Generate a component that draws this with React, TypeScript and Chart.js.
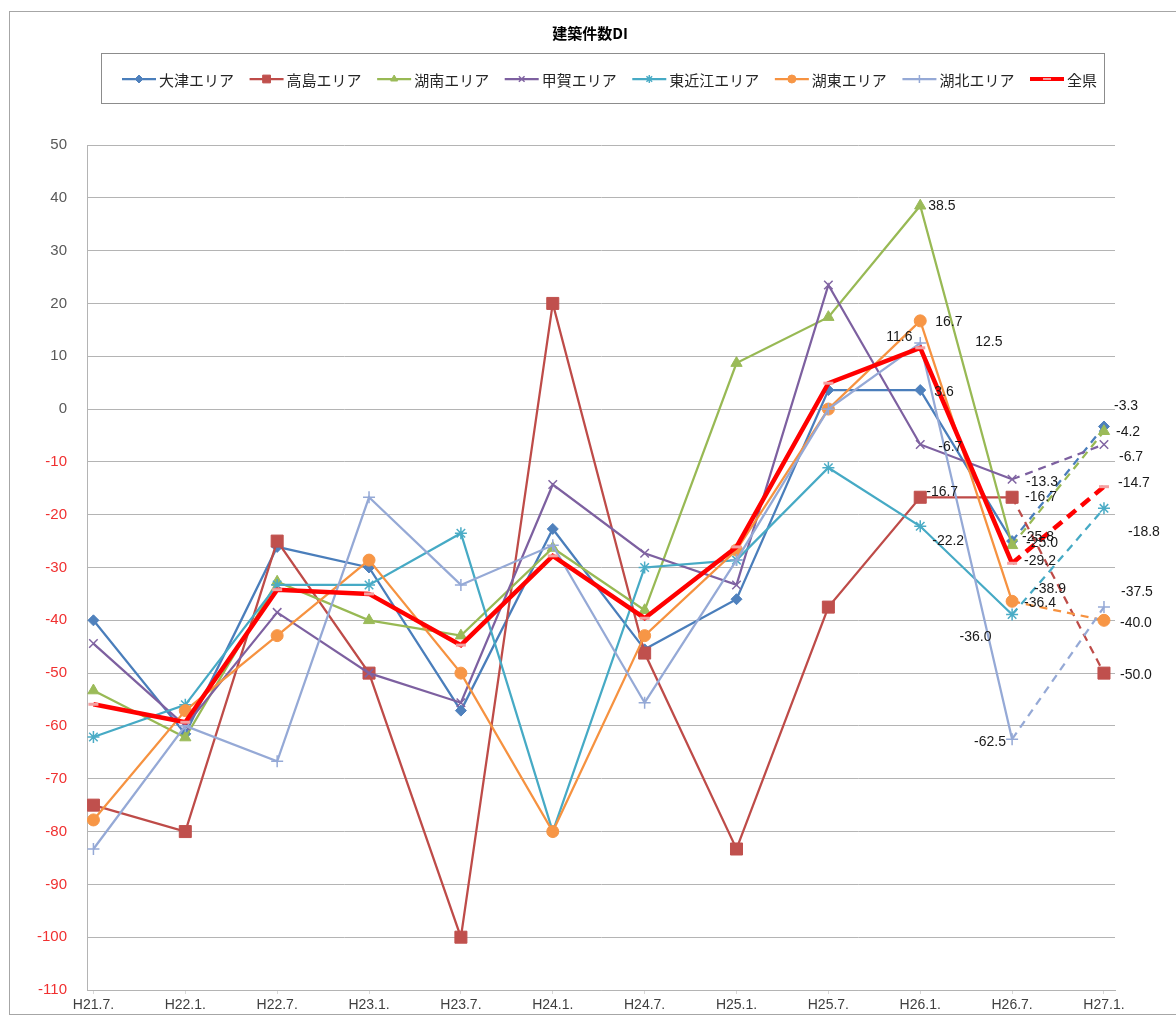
import React, { useEffect, useRef } from 'react';
import { Chart, registerables } from 'chart.js';
import { drawPoint } from 'chart.js/helpers';

Chart.register(...registerables);

const titleText = '建築件数DI';
const categories = ['H21.7.', 'H22.1.', 'H22.7.', 'H23.1.', 'H23.7.', 'H24.1.', 'H24.7.', 'H25.1.', 'H25.7.', 'H26.1.', 'H26.7.', 'H27.1.'];

const otsu = [-40.0, -61.5, -26.1, -30.0, -57.1, -22.7, -45.5, -36.0, 3.6, 3.6, -25.0, -3.3];
const takashima = [-75.0, -80.0, -25.0, -50.0, -100.0, 20.0, -46.2, -83.3, -37.5, -16.7, -16.7, -50.0];
const konan = [-53.3, -62.2, -32.7, -40.0, -42.9, -26.3, -38.1, 8.7, 17.4, 38.5, -25.8, -4.2];
const koka = [-44.4, -60.0, -38.5, -50.0, -55.6, -14.3, -27.3, -33.3, 23.5, -6.7, -13.3, -6.7];
const higashiomi = [-62.1, -56.0, -33.3, -33.3, -23.5, -80.0, -30.0, -28.6, -11.1, -22.2, -38.9, -18.8];
const koto = [-77.8, -57.1, -42.9, -28.6, -50.0, -80.0, -42.9, -26.7, 0.0, 16.7, -36.4, -40.0];
const kohoku = [-83.3, -60.0, -66.7, -16.7, -33.3, -25.8, -55.6, -28.6, 0.0, 12.5, -62.5, -37.5];
const zenken = [-55.9, -59.3, -34.2, -35.0, -44.7, -27.8, -39.6, -26.1, 4.9, 11.6, -29.2, -14.7];

const seriesNames = ['大津エリア', '高島エリア', '湖南エリア', '甲賀エリア', '東近江エリア', '湖東エリア', '湖北エリア', '全県'];
const seriesData = [otsu, takashima, konan, koka, higashiomi, koto, kohoku, zenken];

const yMin = -110;
const yMax = 50;
const yStep = 10;

// style
const lineColors = ['#4A7EBB', '#BE4B48', '#98B954', '#7D60A0', '#46AAC5', '#F69240', '#95A9D6', '#FF0000'];
const markerColors = ['#4F81BD', '#C0504D', '#9BBB59', '#8064A2', '#4BACC6', '#F79646', '#95A9D6', '#F4A0A0'];
const pointStyles = ['rectRot', 'rect', 'triangle', 'crossRot', 'star', 'circle', 'cross', 'line'];
const pointRadii = [5.5, 8.5, 6.5, 6, 6, 6, 6, 5];
const pointBorderWidths = [1, 1, 1, 1.5, 1.5, 1, 1.5, 3];

// data label placement: [series, pointIndex, dx, dy]
const labelPlacements: [number, number, number, number][] = [
  [2, 9, 8, 0], [5, 9, 15, 1], [7, 9, -34, -11], [6, 9, 55, -1], [0, 9, 14, 2], [3, 9, 18, 3], [1, 9, 6, -5], [4, 9, 12, 15],
  [0, 7, 223, 38],
  [3, 10, 14, 3], [1, 10, 13, 0], [2, 10, 10, -8], [0, 10, 14, 2], [7, 10, 12, -2], [4, 10, 22, -25], [5, 10, 12, 2], [6, 10, -38, 3],
  [0, 11, 10, -20], [2, 11, 12, 1], [3, 11, 15, 13], [7, 11, 14, -4], [4, 11, 24, 24], [6, 11, 17, -15], [5, 11, 16, 3], [1, 11, 16, 2],
];

const numFont = '"Liberation Sans", Arial, sans-serif';
const cjkFont = '"Noto Sans CJK JP", "Noto Sans", sans-serif';

const decorPlugin = {
  id: 'decor',
  beforeDraw(chart: any) {
    const c = chart.ctx as CanvasRenderingContext2D;
    c.save();
    c.fillStyle = '#ffffff';
    c.fillRect(0, 0, chart.width, chart.height);
    c.strokeStyle = '#A6A6A6';
    c.lineWidth = 1;
    c.strokeRect(9.5, 11.5, chart.width + 20, 1003);
    // title
    c.fillStyle = '#000000';
    c.font = 'bold 15px ' + cjkFont;
    c.textAlign = 'center';
    c.textBaseline = 'middle';
    c.fillText(titleText, 590, 33);
    // legend box
    c.strokeStyle = '#8C8C8C';
    c.strokeRect(101.5, 53.5, 1003, 50);
    c.font = '15px ' + cjkFont;
    const lineLen = 34;
    const textGap = 3;
    const widths = seriesNames.map((n) => c.measureText(n).width);
    const startX = 122;
    const endX = 1097;
    const used = widths.reduce((a, w) => a + w + lineLen + textGap, 0);
    const gap = (endX - startX - used) / (seriesNames.length - 1);
    let x = startX;
    const y = 79;
    seriesNames.forEach((name, i) => {
      c.strokeStyle = lineColors[i];
      c.lineWidth = i === 7 ? 4 : 2.25;
      c.setLineDash([]);
      c.beginPath();
      c.moveTo(x, y);
      c.lineTo(x + lineLen, y);
      c.stroke();
      c.fillStyle = markerColors[i];
      c.strokeStyle = markerColors[i];
      c.lineWidth = i === 7 ? 2 : pointBorderWidths[i];
      drawPoint(c, { pointStyle: pointStyles[i] as any, radius: i === 1 ? 5.5 : 4, rotation: 0, borderWidth: c.lineWidth }, x + lineLen / 2, y);
      c.fillStyle = '#262626';
      c.textAlign = 'left';
      c.textBaseline = 'middle';
      c.fillText(name, x + lineLen + textGap, y + 1);
      x += lineLen + textGap + widths[i] + gap;
    });
    c.restore();
  },
  afterDatasetsDraw(chart: any) {
    const c = chart.ctx as CanvasRenderingContext2D;
    c.save();
    c.font = '14px ' + numFont;
    c.fillStyle = '#1A1A1A';
    c.textAlign = 'left';
    c.textBaseline = 'middle';
    labelPlacements.forEach(([s, k, dx, dy]) => {
      const meta = chart.getDatasetMeta(s);
      const pt = meta.data[k];
      if (!pt) return;
      c.fillText(seriesData[s][k].toFixed(1), pt.x + dx, pt.y + dy);
    });
    c.restore();
  },
};

export default function App() {
  const ref = useRef<HTMLCanvasElement>(null);
  useEffect(() => {
    document.body.style.overflow = 'hidden';
    const canvas = ref.current;
    if (!canvas) return;
    const datasets = seriesNames.map((name, i) => ({
      label: name,
      data: seriesData[i].map((v, k) => ({ x: k, y: v })),
      borderColor: lineColors[i],
      backgroundColor: markerColors[i],
      borderWidth: i === 7 ? 4.5 : 2.25,
      pointStyle: pointStyles[i],
      pointRadius: pointRadii[i],
      pointHoverRadius: pointRadii[i],
      pointBackgroundColor: markerColors[i],
      pointBorderColor: markerColors[i],
      pointBorderWidth: pointBorderWidths[i],
      tension: 0,
      fill: false,
      order: 8 - i,
      segment: {
        borderDash: (ctx: any) => (ctx.p1DataIndex === categories.length - 1 ? (i === 7 ? [11, 7] : [8, 6]) : undefined),
      },
    }));
    const chart = new Chart(canvas, {
      type: 'line',
      data: { datasets },
      plugins: [decorPlugin],
      options: {
        responsive: false,
        animation: false,
        devicePixelRatio: 1,
        layout: { padding: { top: 145, right: 61, left: 0, bottom: 0 } },
        plugins: {
          legend: { display: false },
          title: { display: false },
          tooltip: { enabled: false },
        },
        scales: {
          x: {
            type: 'linear',
            min: -0.07,
            max: 11.12,
            afterBuildTicks: (s: any) => {
              s.ticks = categories.map((_, i) => ({ value: i }));
            },
            afterFit: (s: any) => {
              s.height = 29;
            },
            ticks: {
              callback: (v: any) => categories[v as number] ?? '',
              color: '#404040',
              font: { size: 14, family: numFont },
              padding: 3,
              autoSkip: false,
              maxRotation: 0,
            },
            grid: { drawOnChartArea: false, drawTicks: true, tickLength: 4, color: '#D9D9D9' },
            border: { color: '#B4B4B4' },
          },
          y: {
            min: yMin,
            max: yMax,
            afterFit: (s: any) => {
              s.width = 87;
            },
            ticks: {
              stepSize: yStep,
              color: (ctx: any) => (ctx.tick && ctx.tick.value < 0 ? '#F03030' : '#595959'),
              font: { size: 15, family: numFont },
              padding: 20,
            },
            grid: { color: '#B4B4B4', drawTicks: false },
            border: { color: '#B4B4B4' },
          },
        },
      },
    } as any);
    return () => chart.destroy();
  }, []);
  return (
    <div style={{ position: 'absolute', left: 0, top: 0, width: 1176, height: 1019 }}>
      <canvas ref={ref} width={1176} height={1019} style={{ display: 'block' }} />
    </div>
  );
}
